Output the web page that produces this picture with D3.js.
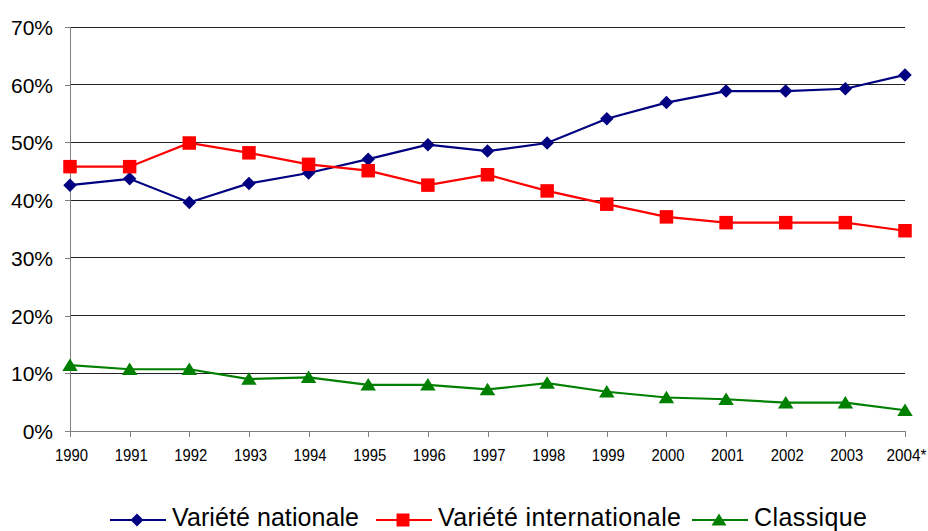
<!DOCTYPE html>
<html><head><meta charset="utf-8">
<script src="https://cdn.jsdelivr.net/npm/d3@7"></script>
<style>body{margin:0;background:#fff}svg{display:block}text{font-family:"Liberation Sans",Arial,sans-serif;fill:#000}</style>
</head><body><svg id="c" width="928" height="531"></svg>
<script>
const years = ["1990","1991","1992","1993","1994","1995","1996","1997","1998","1999","2000","2001","2002","2003","2004*"];
const varieteNationale = [42.6,43.7,39.6,42.9,44.7,47.1,49.6,48.5,49.9,54.1,56.9,58.9,58.9,59.3,61.7];
const varieteInternationale = [45.8,45.8,49.9,48.2,46.2,45.1,42.6,44.4,41.6,39.3,37.1,36.1,36.1,36.1,34.7];
const classique = [11.4,10.7,10.7,9.0,9.3,8.0,8.0,7.2,8.3,6.8,5.8,5.5,4.9,4.9,3.6];
const yTicks = [0,10,20,30,40,50,60,70];
const seriesNames = ["Variété nationale","Variété internationale","Classique"];

const series = [
  {name: seriesNames[0], values: varieteNationale, color: "#000080", marker: "diamond", lx: 110, tw: 187},
  {name: seriesNames[1], values: varieteInternationale, color: "#FF0000", marker: "square", lx: 376, tw: 243},
  {name: seriesNames[2], values: classique, color: "#008000", marker: "triangle", lx: 692, tw: 113}
];

const svg = d3.select("#c");
const x = d3.scalePoint().domain(years).range([70, 905]);
const y = d3.scaleLinear().domain([0, 70]).range([431, 27]);

// gridlines
svg.append("g").selectAll("line").data(yTicks.filter(d => d > 0)).join("line")
  .attr("x1", 70).attr("x2", 905).attr("y1", d => y(d)).attr("y2", d => y(d))
  .attr("stroke", "#222").attr("stroke-width", 1).attr("shape-rendering", "crispEdges");

// y axis
const yAxis = svg.append("g").attr("transform", "translate(70,0)")
  .call(d3.axisLeft(y).tickValues(yTicks).tickFormat(d => d + "%").tickSize(5).tickPadding(12));
yAxis.select(".domain").attr("stroke", "#808080").attr("d", "M0,27V431");
yAxis.selectAll(".tick line").attr("stroke", "#808080");
yAxis.selectAll("text").attr("font-size", 21).attr("font-family", "Liberation Sans, Arial, sans-serif").attr("dy", "0.36em");

// x axis
const xAxis = svg.append("g").attr("transform", "translate(0,431)")
  .call(d3.axisBottom(x).tickSize(6).tickPadding(10));
xAxis.select(".domain").attr("stroke", "#808080").attr("d", "M70,0H905");
xAxis.selectAll(".tick line").attr("stroke", "#808080");
xAxis.selectAll("text").attr("font-size", 16).attr("font-family", "Liberation Sans, Arial, sans-serif")
  .attr("dy", "0.9em").attr("dx", 1)
  .attr("textLength", d => d.length > 4 ? 40 : 33).attr("lengthAdjust", "spacingAndGlyphs");
svg.selectAll(".domain, .tick line").attr("shape-rendering", "crispEdges");

function markerPath(type, size) {
  const s = size / 2;
  if (type === "diamond") return `M0,${-s-0.5}L${s+0.5},0L0,${s+0.5}L${-s-0.5},0Z`;
  if (type === "square") return `M${-s},${-s}H${s}V${s}H${-s}Z`;
  return `M0,${-s}L${s+1},${s-1}H${-s-1}Z`;
}

const line = d3.line().x((d, i) => x(years[i])).y(d => y(d));
series.forEach(s => {
  const g = svg.append("g");
  g.append("path").datum(s.values).attr("d", line).attr("fill", "none")
    .attr("stroke", s.color).attr("stroke-width", 2.2);
  g.selectAll("path.m").data(s.values).join("path").attr("class", "m")
    .attr("transform", (d, i) => `translate(${x(years[i])},${y(d)})`)
    .attr("d", markerPath(s.marker, s.marker === "diamond" ? 12.5 : 13.5))
    .attr("fill", s.color);
});

// legend
const leg = svg.append("g");
series.forEach(s => {
  const g = leg.append("g").attr("transform", `translate(${s.lx},520)`);
  g.append("line").attr("x1", 0).attr("x2", 56).attr("y1", 0).attr("y2", 0)
    .attr("stroke", s.color).attr("stroke-width", 2.2);
  g.append("path").attr("transform", "translate(27,0)").attr("d", markerPath(s.marker, s.marker === "diamond" ? 12 : 13)).attr("fill", s.color);
  g.append("text").attr("x", 62).attr("y", 5.5).attr("font-size", 25)
    .attr("textLength", s.tw).attr("lengthAdjust", "spacing").text(s.name);
});
</script></body></html>
